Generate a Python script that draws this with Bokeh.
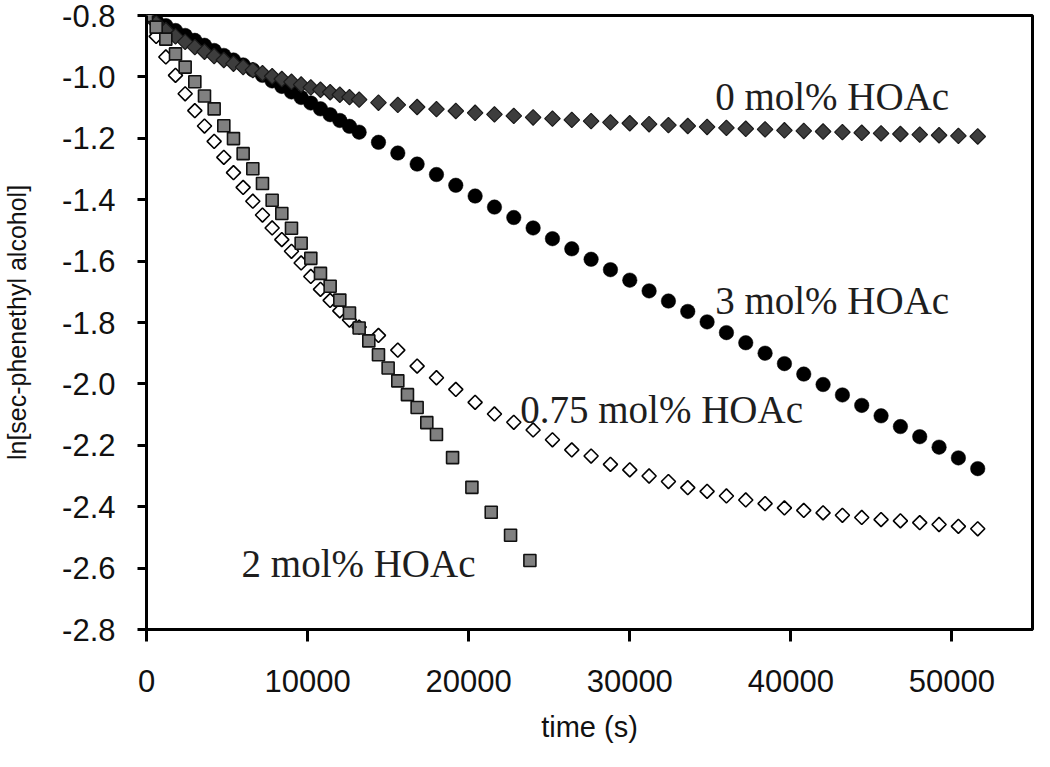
import numpy as np
from bokeh.plotting import figure
from bokeh.models import Range1d, FixedTicker, Label, ColumnDataSource, PrintfTickFormatter
from bokeh.embed import file_html
from bokeh.resources import INLINE

# ---- data ----
time_s = [0, 600, 1200, 1800, 2400, 3000, 3600, 4200, 4800, 5400, 6000, 6600,
          7200, 7800, 8400, 9000, 9600, 10200, 10800, 11400, 12000, 12600, 13200,
          14400, 15600, 16800, 18000, 19200, 20400, 21600, 22800, 24000, 25200,
          26400, 27600, 28800, 30000, 31200, 32400, 33600, 34800, 36000, 37200,
          38400, 39600, 40800, 42000, 43200, 44400, 45600, 46800, 48000, 49200,
          50400, 51600]

hoac_0 = [-0.800, -0.825, -0.848, -0.868, -0.886, -0.903, -0.918, -0.932, -0.945,
          -0.957, -0.968, -0.978, -0.988, -0.998, -1.007, -1.016, -1.025, -1.034,
          -1.042, -1.050, -1.058, -1.066, -1.074,
          -1.084, -1.091, -1.098, -1.105, -1.111, -1.117, -1.122, -1.127, -1.132,
          -1.136, -1.140, -1.144, -1.148, -1.151, -1.154, -1.157, -1.160, -1.163,
          -1.166, -1.169, -1.171, -1.174, -1.176, -1.178, -1.180, -1.182, -1.184,
          -1.186, -1.188, -1.190, -1.192, -1.194]

hoac_3 = [-0.800, -0.817, -0.833, -0.849, -0.865, -0.881, -0.897, -0.914, -0.930,
          -0.945, -0.961, -0.977, -0.995, -1.013, -1.031, -1.049, -1.067, -1.085,
          -1.104, -1.123, -1.142, -1.161, -1.180,
          -1.213, -1.248, -1.284, -1.318, -1.353, -1.388, -1.424, -1.458, -1.492,
          -1.527, -1.560, -1.594, -1.628, -1.662, -1.697, -1.730, -1.764, -1.798,
          -1.833, -1.866, -1.900, -1.934, -1.968, -2.002, -2.036, -2.070, -2.104,
          -2.139, -2.172, -2.206, -2.241, -2.276]

hoac_075 = [-0.800, -0.868, -0.935, -0.995, -1.055, -1.110, -1.160, -1.210, -1.262,
            -1.312, -1.360, -1.405, -1.450, -1.492, -1.530, -1.568, -1.606, -1.650,
            -1.692, -1.728, -1.762, -1.792, -1.815,
            -1.842, -1.890, -1.942, -1.980, -2.018, -2.060, -2.098, -2.125, -2.150,
            -2.182, -2.215, -2.235, -2.262, -2.280, -2.300, -2.318, -2.338, -2.350,
            -2.365, -2.378, -2.390, -2.404, -2.412, -2.420, -2.428, -2.435, -2.442,
            -2.446, -2.452, -2.458, -2.464, -2.472]

time_2 = [0, 600, 1200, 1800, 2400, 3000, 3600, 4200, 4800, 5400, 6000, 6600,
          7200, 7800, 8400, 9000, 9600, 10200, 10800, 11400, 12000, 12600, 13200,
          13800, 14400, 15000, 15600, 16200, 16800, 17400, 18000,
          19000, 20200, 21400, 22600, 23800]

hoac_2 = [-0.800, -0.838, -0.877, -0.925, -0.968, -1.016, -1.062, -1.104, -1.159,
          -1.201, -1.250, -1.299, -1.347, -1.402, -1.445, -1.493, -1.542, -1.591,
          -1.640, -1.682, -1.727, -1.769, -1.818, -1.860, -1.905, -1.948, -1.990,
          -2.035, -2.077, -2.126, -2.165,
          -2.240, -2.337, -2.418, -2.493, -2.575]

x_ticks = [0, 10000, 20000, 30000, 40000, 50000]
y_ticks = [-2.8, -2.6, -2.4, -2.2, -2.0, -1.8, -1.6, -1.4, -1.2, -1.0, -0.8]

series_labels = ["0 mol% HOAc", "3 mol% HOAc", "0.75 mol% HOAc", "2 mol% HOAc"]
label_x = [35300, 35300, 23200, 5900]
label_y = [-1.063, -1.727, -2.084, -2.586]

x_title = "time (s)"
y_title = "ln[sec-phenethyl alcohol]"

# ---- figure ----
p = figure(width=1036, height=751, output_backend="svg", toolbar_location=None,
           x_range=Range1d(0, 55000), y_range=Range1d(-2.8, -0.8),
           min_border_left=140, min_border_right=4, min_border_top=15,
           min_border_bottom=122)
p.background_fill_color = "white"
p.border_fill_color = "white"
p.outline_line_color = "black"
p.outline_line_width = 3
p.xgrid.visible = False
p.ygrid.visible = False

src3 = ColumnDataSource(dict(t=time_s, y=hoac_3))
src0 = ColumnDataSource(dict(t=time_s, y=hoac_0))
src075 = ColumnDataSource(dict(t=time_s, y=hoac_075))
src2 = ColumnDataSource(dict(t=time_2, y=hoac_2))

p.scatter("t", "y", source=src3, marker="circle", size=14.5,
          fill_color="black", line_color="black", line_width=0.5)
p.scatter("t", "y", source=src0, marker="square", angle=np.pi / 4, size=11,
          fill_color="#3d3d3d", line_color="#1a1a1a", line_width=1.2)
p.scatter("t", "y", source=src075, marker="square", angle=np.pi / 4, size=10,
          fill_color="white", line_color="black", line_width=1.6)
p.scatter("t", "y", source=src2, marker="square", size=12,
          fill_color="#808080", line_color="#111111", line_width=1.6)

for txt, lx, ly in zip(series_labels, label_x, label_y):
    p.add_layout(Label(x=lx, y=ly, text=txt, text_font="Liberation Serif",
                       text_font_size="39px", text_color="#1e1e1e",
                       text_align="left", text_baseline="alphabetic"))

for ax in (p.xaxis[0], p.yaxis[0]):
    ax.axis_line_width = 3
    ax.axis_line_color = "black"
    ax.major_tick_line_width = 3
    ax.major_tick_line_color = "black"
    ax.major_tick_in = 0
    ax.minor_tick_line_color = None
    ax.major_label_text_font = "Liberation Sans"
    ax.major_label_text_font_size = "31px"
    ax.major_label_text_color = "#111111"
    ax.major_label_text_line_height = 1.0
    ax.axis_label_text_font = "Liberation Sans"
    ax.axis_label_text_font_style = "normal"
    ax.axis_label_text_color = "#111111"
    ax.axis_label_text_line_height = 1.0

p.xaxis[0].ticker = FixedTicker(ticks=x_ticks)
p.xaxis[0].formatter = PrintfTickFormatter(format="%d")
p.xaxis[0].major_tick_out = 12
p.xaxis[0].major_label_standoff = 28
p.xaxis[0].axis_label = x_title
p.xaxis[0].axis_label_text_font_size = "29px"
p.xaxis[0].axis_label_standoff = 16

p.yaxis[0].ticker = FixedTicker(ticks=y_ticks)
p.yaxis[0].formatter = PrintfTickFormatter(format="%.1f")
p.yaxis[0].major_tick_out = 9
p.yaxis[0].major_label_standoff = 22
p.yaxis[0].axis_label = y_title
p.yaxis[0].axis_label_text_font_size = "25px"
p.yaxis[0].axis_label_standoff = 28

open("out.html", "w").write(file_html(p, INLINE))
